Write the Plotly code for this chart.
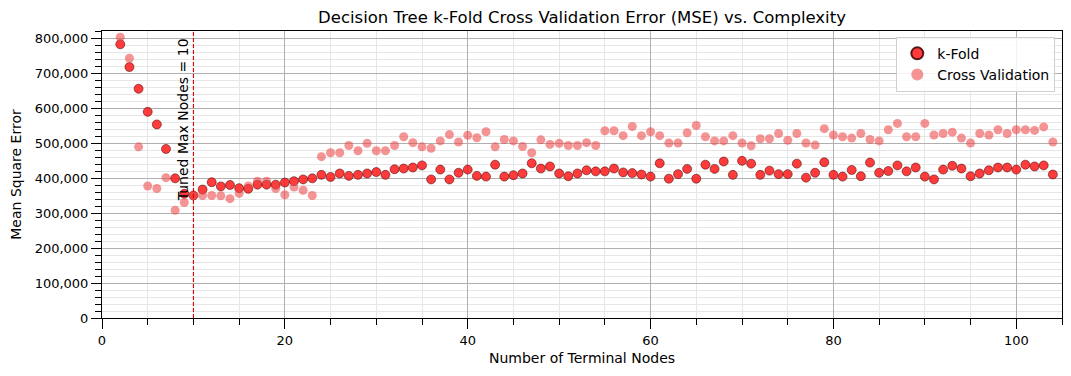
import plotly.graph_objects as go

nodes = list(range(2, 105))

kfold_mse = [782000, 717000, 655000, 589000, 553000, 483000, 399000, 355000, 350000,
             367000, 388000, 376000, 380000, 371000, 369000, 381000, 381000, 381000,
             387000, 391000, 396000, 399000, 409000, 403000, 413000, 406000, 409000,
             413000, 417000, 409000, 425000, 427000, 430000, 436000, 396000, 424000,
             396000, 415000, 424000, 406000, 404000, 438000, 404000, 408000, 413000,
             442000, 427000, 433000, 413000, 405000, 413000, 422000, 419000, 419000,
             427000, 416000, 414000, 410000, 404000, 442000, 398000, 411000, 426000,
             398000, 438000, 426000, 447000, 409000, 449000, 441000, 409000, 421000,
             411000, 411000, 441000, 401000, 415000, 445000, 409000, 404000, 423000,
             405000, 444000, 415000, 420000, 436000, 419000, 430000, 404000, 396000,
             424000, 435000, 427000, 405000, 413000, 422000, 430000, 430000, 424000,
             438000, 433000, 436000, 410000]

cv_mse = [802000, 742000, 489000, 377000, 370000, 401000, 308000, 330000, 350000,
          350000, 350000, 349000, 341000, 356000, 377000, 391000, 391000, 370000,
          352000, 374000, 365000, 350000, 461000, 472000, 472000, 493000, 478000,
          499000, 478000, 478000, 493000, 518000, 501000, 489000, 485000, 506000,
          524000, 503000, 522000, 515000, 532000, 489000, 510000, 506000, 490000,
          472000, 509000, 496000, 499000, 493000, 493000, 501000, 493000, 535000,
          535000, 521000, 547000, 521000, 532000, 521000, 500000, 500000, 529000,
          550000, 518000, 506000, 506000, 521000, 500000, 492000, 512000, 512000,
          527000, 508000, 527000, 500000, 494000, 541000, 523000, 518000, 514000,
          527000, 510000, 506000, 538000, 556000, 518000, 518000, 556000, 523000,
          527000, 531000, 514000, 500000, 527000, 523000, 538000, 527000, 538000,
          538000, 536000, 546000, 503000]

tuned_nodes = 10

title = "Decision Tree k-Fold Cross Validation Error (MSE) vs. Complexity"
x_label = "Number of Terminal Nodes"
y_label = "Mean Square Error"
y_ticks = [0, 100000, 200000, 300000, 400000, 500000, 600000, 700000, 800000]
y_ticktext = ["0", "100,000", "200,000", "300,000", "400,000", "500,000",
              "600,000", "700,000", "800,000"]

FONT = "DejaVu Sans"
W, H = 1063, 368  # page body has an 8px margin

fig = go.Figure()
fig.add_trace(go.Scatter(
    x=nodes, y=kfold_mse, mode="markers", name="k-Fold",
    marker=dict(size=9, color="rgba(255,25,25,0.85)",
                line=dict(color="rgba(60,0,0,0.85)", width=0.6)),
))
fig.add_trace(go.Scatter(
    x=nodes, y=cv_mse, mode="markers", name="Cross Validation",
    marker=dict(size=9, color="rgba(238,70,70,0.58)", line=dict(width=0)),
))

fig.add_shape(type="line", x0=tuned_nodes, x1=tuned_nodes, y0=0, y1=1,
              xref="x", yref="paper",
              line=dict(color="#dd0000", width=1.1, dash="4px,2px"))
fig.add_annotation(x=tuned_nodes, y=805000, xref="x", yref="y",
                   text=f"Tuned Max Nodes = {tuned_nodes}", textangle=-90,
                   showarrow=False, xanchor="right", yanchor="top", xshift=-1,
                   font=dict(family=FONT, size=14, color="black"))

axis_common = dict(
    showline=True, linecolor="black", linewidth=1, mirror=True,
    ticks="outside", ticklen=10, tickwidth=1, tickcolor="black",
    showgrid=True, gridcolor="#b0b0b0", gridwidth=1, zeroline=False,
    tickfont=dict(family=FONT, size=13, color="black"),
    automargin=False,
)

fig.update_xaxes(
    range=[0, 105], dtick=20, tick0=0,
    minor=dict(dtick=5, ticks="outside", ticklen=6, tickcolor="black",
               showgrid=True, gridcolor="#e6e6e6", gridwidth=1),
    title=dict(text=x_label, font=dict(family=FONT, size=14, color="black"),
               standoff=6),
    **axis_common,
)
fig.update_yaxes(
    range=[0, 820000], tickvals=y_ticks, ticktext=y_ticktext,
    minor=dict(tickvals=[v for v in range(0, 820001, 20000)], ticks="outside",
               ticklen=6, tickcolor="black",
               showgrid=True, gridcolor="#e6e6e6", gridwidth=1),
    title=dict(text=y_label, font=dict(family=FONT, size=14, color="black"),
               standoff=9),
    **axis_common,
)

fig.update_layout(
    width=W, height=H,
    margin=dict(l=94, r=9, t=23, b=58, autoexpand=False),
    paper_bgcolor="white", plot_bgcolor="white",
    title=dict(text=title, x=0.5, xref="paper", xanchor="center",
               y=1 - 9 / H, yref="container", yanchor="middle",
               font=dict(family=FONT, size=16.5, color="black"), automargin=False),
    font=dict(family=FONT, size=13, color="black"),
    legend=dict(x=0.993, y=0.98, xanchor="right", yanchor="top",
                bgcolor="rgba(255,255,255,0.85)", bordercolor="#d0d0d0",
                borderwidth=1, font=dict(family=FONT, size=14),
                itemsizing="constant", tracegroupgap=0),
    showlegend=True,
)

fig.write_html("out.html")
